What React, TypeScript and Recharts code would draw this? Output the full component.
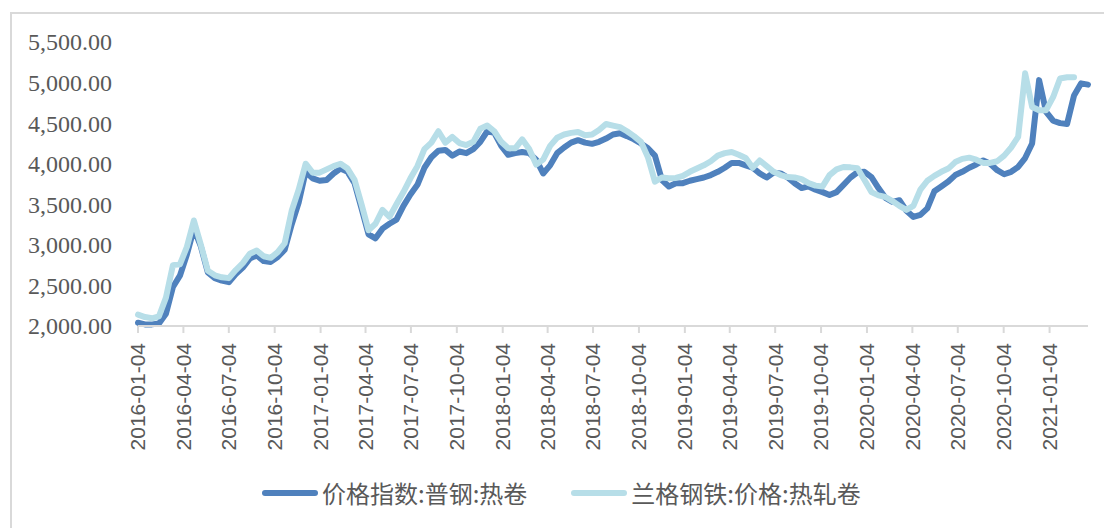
import React from "react";
import { LineChart, Line, XAxis, YAxis, Legend } from "recharts";

// biweekly samples starting 2016-01-04
const START_DATE = "2016-01-04";
const STEP_DAYS = 14;

// 价格指数:普钢:热卷
const hotCoilIndex = [
  2040, 2020, 2020, 2030, 2150, 2480, 2620, 2880, 3200, 2980,
  2660, 2590, 2560, 2540, 2640, 2720, 2830, 2870, 2800, 2790,
  2850, 2940, 3250, 3520, 3900, 3820, 3790, 3800, 3880, 3940,
  3900, 3760, 3450, 3130, 3080, 3200, 3260, 3310, 3480, 3620,
  3740, 3950, 4080, 4160, 4170, 4100, 4150, 4130, 4180, 4270,
  4400, 4380, 4220, 4110, 4130, 4145, 4130, 4050, 3880, 3980,
  4130, 4200, 4260, 4290, 4260, 4245, 4270, 4310, 4360, 4375,
  4340, 4300, 4250, 4190, 4100, 3800, 3720, 3760, 3760, 3790,
  3810, 3830, 3860, 3900, 3950, 4010, 4010, 3980, 3950, 3880,
  3830, 3890, 3880, 3830, 3760, 3700, 3720, 3680, 3650, 3615,
  3650, 3740, 3830, 3895, 3900, 3835, 3700, 3580, 3530, 3550,
  3420, 3345, 3370, 3450, 3660, 3720, 3780, 3860, 3900, 3950,
  3990, 4040, 4000, 3920, 3870, 3900, 3960, 4070, 4250, 5030,
  4640, 4530, 4500, 4490, 4840, 4990, 4975,
];

// 兰格钢铁:价格:热轧卷
const langeHotRolled = [
  2140, 2110, 2095, 2120, 2350, 2750, 2760, 2975, 3300, 3000,
  2680, 2625, 2600, 2590, 2690, 2775, 2890, 2930, 2860, 2840,
  2910, 3020, 3420, 3680, 4000, 3890, 3890, 3930, 3970, 4000,
  3940, 3800, 3500, 3180, 3260, 3430, 3345, 3500, 3650, 3820,
  3970, 4180, 4260, 4400, 4260, 4330, 4255, 4230, 4270, 4430,
  4470, 4400, 4270, 4190, 4190, 4300, 4180, 3990, 4050, 4220,
  4320, 4360, 4380, 4390, 4350, 4360, 4415, 4490, 4470, 4450,
  4400, 4340, 4270, 4080, 3780, 3830, 3820, 3825, 3850, 3900,
  3940, 3980, 4030, 4100, 4130, 4145, 4110, 4070, 3950, 4040,
  3970, 3900, 3860, 3835, 3830, 3810, 3760, 3730, 3720, 3860,
  3930, 3960, 3955, 3945, 3800, 3650, 3610, 3590, 3540, 3480,
  3430, 3480, 3680, 3790, 3850, 3900, 3940, 4020, 4060, 4075,
  4050, 4010, 4010, 4030, 4100, 4200, 4330, 5115, 4700, 4660,
  4660, 4820, 5050, 5065, 5065, null, null,
];

const tickLabels = [
  "2016-01-04", "2016-04-04", "2016-07-04", "2016-10-04",
  "2017-01-04", "2017-04-04", "2017-07-04", "2017-10-04",
  "2018-01-04", "2018-04-04", "2018-07-04", "2018-10-04",
  "2019-01-04", "2019-04-04", "2019-07-04", "2019-10-04",
  "2020-01-04", "2020-04-04", "2020-07-04", "2020-10-04",
  "2021-01-04",
];

const yTicks = [2000, 2500, 3000, 3500, 4000, 4500, 5000, 5500];

const DARK = "#4f81bd";
const LIGHT = "#b7dee8";
const TEXT = "#595959";

const DAY = 86400000;
const start = Date.parse(START_DATE);
const data = hotCoilIndex.map((v, i) => ({
  t: start + i * STEP_DAYS * DAY,
  index: v,
  lange: langeHotRolled[i],
}));
const xTicks = tickLabels.map((d) => Date.parse(d));

const fmtDate = (t: number) => new Date(t).toISOString().slice(0, 10);
const fmtNum = (v: number) =>
  v.toLocaleString("en-US", { minimumFractionDigits: 2, maximumFractionDigits: 2 });

function DateTick({ x, y, payload }: any) {
  return (
    <text
      x={x}
      y={y}
      dy="0.35em"
      transform={`rotate(-90, ${x}, ${y})`}
      textAnchor="end"
      fill={TEXT}
      style={{ fontSize: 21, fontFamily: "'Liberation Sans', Arial, sans-serif" }}
    >
      {fmtDate(payload.value)}
    </text>
  );
}

function ValueTick({ x, y, payload }: any) {
  return (
    <text
      x={x}
      y={y}
      dy="0.35em"
      textAnchor="end"
      fill={TEXT}
      style={{ fontSize: 24, fontFamily: "'Liberation Serif', 'Times New Roman', serif" }}
    >
      {fmtNum(payload.value)}
    </text>
  );
}

function LegendContent() {
  const items = [
    { name: "价格指数:普钢:热卷", color: DARK },
    { name: "兰格钢铁:价格:热轧卷", color: LIGHT },
  ];
  return (
    <div style={{ display: "flex", alignItems: "center", paddingLeft: 262, gap: 44 }}>
      {items.map((it) => (
        <div key={it.name} style={{ display: "flex", alignItems: "center" }}>
          <div style={{ width: 56, height: 6, borderRadius: 3, background: it.color }} />
          <span
            style={{
              marginLeft: 4,
              fontSize: 24,
              color: TEXT,
              fontFamily: "'Noto Sans CJK SC', sans-serif",
              lineHeight: "30px",
            }}
          >
            {it.name}
          </span>
        </div>
      ))}
    </div>
  );
}

export default function App() {
  return (
    <div
      style={{
        position: "absolute",
        left: 0,
        top: 0,
        width: 1104,
        height: 528,
        overflow: "hidden",
        background: "#fff",
      }}
    >
      <div
        style={{
          position: "absolute",
          left: 10,
          top: 12,
          width: 1200,
          height: 600,
          border: "2px solid #d9d9d9",
        }}
      />
      <div style={{ position: "absolute", left: 0, top: 0 }}>
        <LineChart
          width={1104}
          height={528}
          data={data}
          margin={{ top: 42, right: 16, left: 0, bottom: 0 }}
        >
          <XAxis
            dataKey="t"
            type="number"
            scale="time"
            domain={["dataMin", "dataMax"]}
            ticks={xTicks}
            interval={0}
            height={202}
            tick={<DateTick />}
            tickSize={7}
            tickMargin={10}
            axisLine={{ stroke: "#d9d9d9", strokeWidth: 2 }}
            tickLine={{ stroke: "#d9d9d9", strokeWidth: 2 }}
          />
          <YAxis
            width={138}
            domain={[2000, 5500]}
            ticks={yTicks}
            interval={0}
            axisLine={false}
            tickLine={false}
            tickSize={0}
            tickMargin={26}
            tick={<ValueTick />}
          />
          <Legend
            layout="horizontal"
            verticalAlign="middle"
            align="center"
            wrapperStyle={{ top: 478, left: 0, width: 1104 }}
            content={<LegendContent />}
          />
          <Line
            type="linear"
            dataKey="index"
            name="价格指数:普钢:热卷"
            stroke={DARK}
            strokeWidth={6}
            strokeLinejoin="round"
            strokeLinecap="round"
            dot={false}
            isAnimationActive={false}
          />
          <Line
            type="linear"
            dataKey="lange"
            name="兰格钢铁:价格:热轧卷"
            stroke={LIGHT}
            strokeWidth={6}
            strokeLinejoin="round"
            strokeLinecap="round"
            dot={false}
            isAnimationActive={false}
          />
        </LineChart>
      </div>
    </div>
  );
}
